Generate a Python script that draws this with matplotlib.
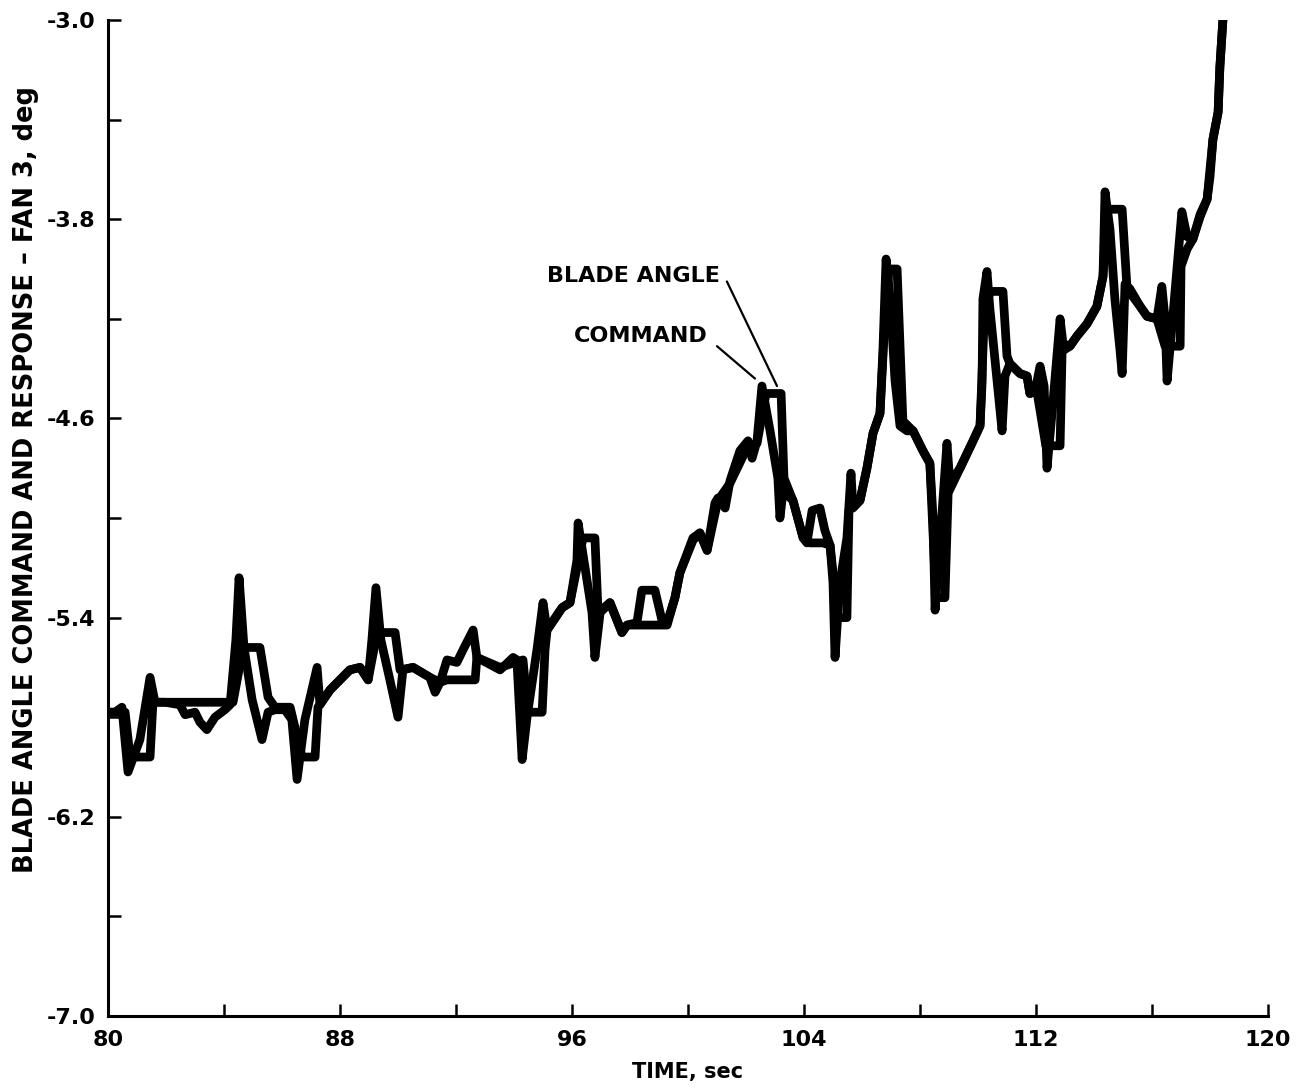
import matplotlib
matplotlib.use("Agg")
import matplotlib.pyplot as plt
from matplotlib.ticker import FixedLocator

# ---- data ----
cmd_t = [80.00, 80.24, 80.48, 80.69, 81.10, 81.45, 81.62, 81.97, 82.48, 82.66,
         83.00, 83.17, 83.41, 83.69, 84.03, 84.21, 84.41, 84.52, 84.69, 84.97,
         85.31, 85.52, 85.76, 86.10, 86.34, 86.52, 86.79, 87.21, 87.31, 87.66,
         88.00, 88.34, 88.69, 88.97, 89.10, 89.24, 89.41, 89.72, 90.00, 90.17,
         90.52, 91.10, 91.28, 91.45, 91.69, 92.03, 92.24, 92.59, 92.72, 93.52,
         93.97, 94.10, 94.28, 94.45, 94.79, 95.00, 95.14, 95.66, 95.93, 96.17,
         96.21, 96.69, 96.79, 96.97, 97.31, 97.72, 97.90, 98.24, 98.41, 98.86,
         99.10, 99.28, 99.55, 99.72, 100.17, 100.41, 100.66, 100.93, 101.03, 101.28,
         101.45, 101.79, 102.07, 102.21, 102.38, 102.55, 102.83, 103.10, 103.17, 103.28,
         103.62, 103.97, 104.10, 104.28, 104.55, 104.72, 104.90, 105.00, 105.07, 105.24,
         105.48, 105.62, 105.69, 105.93, 106.17, 106.38, 106.62, 106.72, 106.83, 106.97,
         107.14, 107.31, 107.55, 107.76, 108.10, 108.34, 108.45, 108.52, 108.69, 108.79,
         108.93, 109.03, 109.38, 109.83, 110.07, 110.14, 110.17, 110.31, 110.41, 110.59,
         110.83, 110.93, 111.10, 111.45, 111.69, 111.79, 111.97, 112.14, 112.28, 112.38,
         112.59, 112.83, 112.93, 113.17, 113.41, 113.76, 114.10, 114.31, 114.38, 114.55,
         114.72, 114.90, 114.97, 115.07, 115.24, 115.59, 115.83, 116.17, 116.34, 116.45,
         116.52, 116.72, 117.03, 117.21, 117.41, 117.66, 117.90, 118.00, 118.10, 118.28,
         118.34, 118.45]
cmd_v = [-5.78, -5.78, -5.76, -6.02, -5.89, -5.64, -5.74, -5.74, -5.75, -5.79,
         -5.78, -5.82, -5.85, -5.80, -5.77, -5.75, -5.49, -5.24, -5.52, -5.73,
         -5.89, -5.78, -5.77, -5.77, -5.81, -6.05, -5.81, -5.60, -5.75, -5.69,
         -5.65, -5.61, -5.60, -5.65, -5.49, -5.28, -5.49, -5.65, -5.80, -5.61,
         -5.60, -5.64, -5.70, -5.66, -5.57, -5.58, -5.53, -5.45, -5.56, -5.61,
         -5.56, -5.57, -5.97, -5.80, -5.53, -5.34, -5.45, -5.36, -5.34, -5.17,
         -5.02, -5.38, -5.56, -5.38, -5.34, -5.46, -5.43, -5.42, -5.29, -5.29,
         -5.41, -5.42, -5.32, -5.22, -5.08, -5.06, -5.13, -4.94, -4.92, -4.96,
         -4.85, -4.73, -4.69, -4.76, -4.69, -4.47, -4.65, -4.84, -5.00, -4.89,
         -4.93, -5.08, -5.10, -4.97, -4.96, -5.05, -5.11, -5.26, -5.56, -5.26,
         -5.08, -4.82, -4.96, -4.93, -4.80, -4.66, -4.58, -4.33, -3.96, -4.12,
         -4.45, -4.63, -4.65, -4.65, -4.73, -4.78, -5.00, -5.37, -5.09, -4.93,
         -4.70, -4.86, -4.80, -4.69, -4.63, -4.46, -4.12, -4.01, -4.16, -4.37,
         -4.65, -4.43, -4.38, -4.42, -4.43, -4.50, -4.49, -4.39, -4.47, -4.80,
         -4.53, -4.20, -4.30, -4.31, -4.27, -4.22, -4.15, -4.03, -3.69, -3.84,
         -4.12, -4.33, -4.42, -4.06, -4.08, -4.15, -4.19, -4.20, -4.07, -4.20,
         -4.45, -4.19, -3.77, -3.87, -3.88, -3.78, -3.72, -3.63, -3.48, -3.37,
         -3.19, -2.99]

blade_t = [80.00, 80.59, 80.76, 81.45, 81.55, 84.31, 84.66, 85.24, 85.52, 85.76,
           86.28, 86.69, 87.14, 87.24, 87.66, 88.00, 88.34, 88.69, 88.97, 89.28,
           89.90, 90.07, 90.52, 91.10, 91.45, 91.69, 92.66, 92.72, 93.52, 94.31,
           94.48, 94.97, 95.07, 95.14, 95.66, 95.93, 96.38, 96.79, 96.90, 97.31,
           97.72, 97.90, 99.28, 99.55, 99.72, 100.17, 100.41, 100.66, 101.03, 101.45,
           102.07, 102.38, 102.69, 103.21, 103.31, 103.62, 103.97, 104.21, 104.66, 104.90,
           105.17, 105.48, 105.55, 105.93, 106.17, 106.38, 106.62, 106.79, 106.93, 107.21,
           107.41, 107.76, 108.10, 108.34, 108.55, 108.86, 108.97, 109.38, 109.83, 110.07,
           110.24, 110.48, 110.86, 111.00, 111.10, 111.45, 111.69, 111.79, 112.03, 112.34,
           112.83, 112.90, 113.17, 113.41, 113.76, 114.10, 114.31, 114.45, 114.97, 115.14,
           115.59, 115.83, 116.17, 116.45, 116.97, 117.00, 117.21, 117.41, 117.66, 117.90,
           118.10, 118.28, 118.34, 118.45]
blade_v = [-5.78, -5.78, -5.96, -5.96, -5.74, -5.74, -5.52, -5.52, -5.72, -5.76,
           -5.76, -5.96, -5.96, -5.76, -5.69, -5.65, -5.61, -5.60, -5.65, -5.46,
           -5.46, -5.61, -5.60, -5.64, -5.66, -5.65, -5.65, -5.56, -5.60, -5.57,
           -5.78, -5.78, -5.53, -5.45, -5.36, -5.34, -5.08, -5.08, -5.38, -5.34,
           -5.46, -5.43, -5.43, -5.32, -5.22, -5.09, -5.06, -5.13, -4.93, -4.86,
           -4.71, -4.70, -4.50, -4.50, -4.84, -4.93, -5.08, -5.10, -5.10, -5.11,
           -5.40, -5.40, -4.97, -4.93, -4.80, -4.66, -4.58, -4.20, -4.00, -4.00,
           -4.61, -4.65, -4.73, -4.78, -5.32, -5.32, -4.90, -4.80, -4.69, -4.63,
           -4.12, -4.09, -4.09, -4.35, -4.38, -4.42, -4.43, -4.50, -4.49, -4.71,
           -4.71, -4.33, -4.31, -4.27, -4.22, -4.15, -4.03, -3.76, -3.76, -4.08,
           -4.15, -4.19, -4.20, -4.31, -4.31, -3.99, -3.92, -3.88, -3.79, -3.72,
           -3.48, -3.37, -3.19, -2.99]

x_major = [80, 88, 96, 104, 112, 120]
x_minor = [84, 92, 100, 108, 116]
y_major = [-7.0, -6.2, -5.4, -4.6, -3.8, -3.0]
y_minor = [-6.6, -5.8, -5.0, -4.2, -3.4]
y_labels = ["-7.0", "-6.2", "-5.4", "-4.6", "-3.8", "-3.0"]

# ---- figure ----
plt.rcParams['font.family'] = ['DejaVu Sans']
plt.rcParams['font.weight'] = 'bold'
fig = plt.figure(figsize=(12.96, 10.89), dpi=100)
ax = fig.add_axes([108/1296, 1 - 1016/1089, 1160/1296, 996/1089])

lw = 6.3
ax.plot(blade_t, blade_v, color='black', lw=lw, solid_joinstyle='round', solid_capstyle='round')
ax.plot(cmd_t, cmd_v, color='black', lw=lw, solid_joinstyle='round', solid_capstyle='round')

ax.set_xlim(80, 120)
ax.set_ylim(-7.0, -3.0)
for s in ['top', 'right']:
    ax.spines[s].set_visible(False)
for s in ['left', 'bottom']:
    ax.spines[s].set_linewidth(2.2)

ax.xaxis.set_major_locator(FixedLocator(x_major))
ax.xaxis.set_minor_locator(FixedLocator(x_minor))
ax.yaxis.set_major_locator(FixedLocator(y_major))
ax.yaxis.set_minor_locator(FixedLocator(y_minor))
ax.set_xticklabels([str(v) for v in x_major])
ax.set_yticklabels(y_labels)
ax.tick_params(which='both', direction='in', length=9, width=1.8)
ax.tick_params(axis='x', which='major', pad=10, labelsize=16)
ax.tick_params(axis='y', which='major', pad=9, labelsize=16)
for lab in ax.get_xticklabels() + ax.get_yticklabels():
    lab.set_fontweight('bold')

fig.text(688/1296, 1 - 1072/1089, "TIME, sec", ha='center', va='center',
         fontsize=15, fontweight='bold')
fig.text(26/1296, 1 - 480/1089, "BLADE ANGLE COMMAND AND RESPONSE \u2013 FAN 3, deg",
         rotation=90, ha='center', va='center', fontsize=18.5, fontweight='bold')

# annotations
ax.text(101.10, -4.03, "BLADE ANGLE", ha='right', va='center', fontsize=16, fontweight='bold')
ax.text(100.69, -4.27, "COMMAND", ha='right', va='center', fontsize=16, fontweight='bold')
ax.annotate('', xy=(103.07, -4.47), xytext=(101.34, -4.05),
            arrowprops=dict(arrowstyle='-', lw=1.6, color='black', shrinkA=0, shrinkB=0))
ax.annotate('', xy=(102.31, -4.44), xytext=(101.00, -4.31),
            arrowprops=dict(arrowstyle='-', lw=1.6, color='black', shrinkA=0, shrinkB=0))

fig.savefig("out.png", dpi=100)
